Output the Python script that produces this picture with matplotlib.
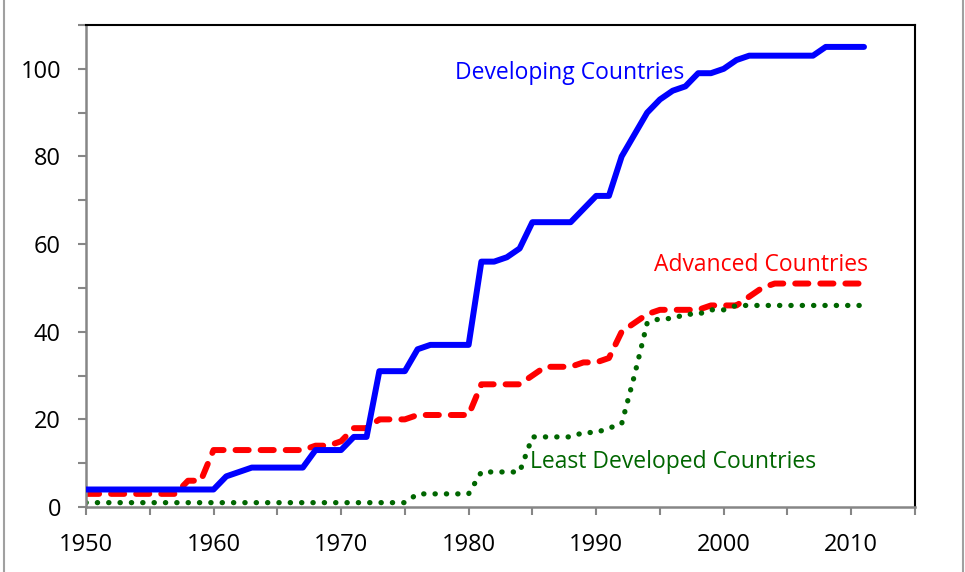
import numpy as np
import matplotlib.pyplot as plt
from matplotlib.lines import Line2D

# Cumulative number of countries (1950-2011)
years = list(range(1950, 2012))

developing = [4, 4, 4, 4, 4, 4, 4, 4, 4, 4,        # 1950-1959
              4, 7, 8, 9, 9, 9, 9, 9, 13, 13,      # 1960-1969
              13, 16, 16, 31, 31, 31, 36, 37, 37, 37,   # 1970-1979
              37, 56, 56, 57, 59, 65, 65, 65, 65, 68,   # 1980-1989
              71, 71, 80, 85, 90, 93, 95, 96, 99, 99,   # 1990-1999
              100, 102, 103, 103, 103, 103, 103, 103, 105, 105,  # 2000-2009
              105, 105]                                # 2010-2011

advanced = [3, 3, 3, 3, 3, 3, 3, 3, 6, 6,
            13, 13, 13, 13, 13, 13, 13, 13, 14, 14,
            15, 18, 18, 20, 20, 20, 21, 21, 21, 21,
            21, 28, 28, 28, 28, 30, 32, 32, 32, 33,
            33, 34, 40, 42, 44, 45, 45, 45, 45, 46,
            46, 46, 48, 50, 51, 51, 51, 51, 51, 51,
            51, 51]

least_dev = [1, 1, 1, 1, 1, 1, 1, 1, 1, 1,
             1, 1, 1, 1, 1, 1, 1, 1, 1, 1,
             1, 1, 1, 1, 1, 1, 3, 3, 3, 3,
             3, 8, 8, 8, 8, 16, 16, 16, 16, 17,
             17, 18, 19, 30, 42, 43, 43, 44, 44, 45,
             45, 46, 46, 46, 46, 46, 46, 46, 46, 46,
             46, 46]

plt.rcParams['font.family'] = ['Open Sans', 'DejaVu Sans']

fig = plt.figure(figsize=(9.65, 5.72), dpi=100)
ax = fig.add_axes([0.0891, 0.1136, 0.9482 - 0.0891, 0.9563 - 0.1136])

ax.plot(years, developing, color='#0000FF', lw=4.3, solid_capstyle='round',
        solid_joinstyle='round', zorder=3)
ax.plot(years, advanced, color='#FF0000', lw=4.3, dashes=(2.2, 2.0),
        dash_capstyle='round', zorder=2)
ax.plot(years, least_dev, color='#006600', lw=3.8, dashes=(0.05, 2.1),
        dash_capstyle='round', zorder=2)

ax.set_xlim(1950, 2015)
ax.set_ylim(0, 110)
ax.set_xticks(range(1950, 2011, 10))
ax.set_xticks(range(1955, 2016, 10), minor=True)
ax.set_yticks(range(0, 101, 20))
ax.set_yticks(range(10, 111, 20), minor=True)

gray = '#868686'
for s in ['left', 'bottom']:
    ax.spines[s].set_color(gray)
    ax.spines[s].set_linewidth(1.8)
for s in ['top', 'right']:
    ax.spines[s].set_color('black')
    ax.spines[s].set_linewidth(1.5)

ax.tick_params(which='both', direction='out', length=6, width=1.5, color=gray,
               labelsize=17, labelcolor='black')
ax.tick_params(axis='x', pad=13)
ax.tick_params(axis='y', pad=12)

ax.text(1987.9, 99.0, 'Developing Countries', color='#0000FF', fontsize=16.5,
        ha='center', va='center')
ax.text(2011.3, 55.2, 'Advanced Countries', color='#FF0000', fontsize=16.5,
        ha='right', va='center')
ax.text(1984.8, 10.2, 'Least Developed Countries', color='#006600', fontsize=16.5,
        ha='left', va='center')

# chart-area border (sides visible in the reference)
fig.add_artist(Line2D([0.004, 0.004], [0, 1], color='#A0A0A0', lw=1.5))
fig.add_artist(Line2D([0.998, 0.998], [0, 1], color='#A0A0A0', lw=1.5))

fig.savefig('out.png', dpi=100)
